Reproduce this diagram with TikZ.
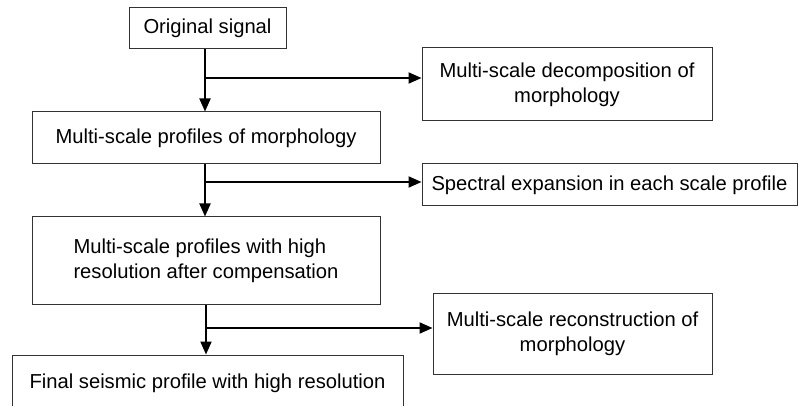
\documentclass[tikz,border=0pt]{standalone}
\usepackage{fontspec}
\setmainfont{Liberation Sans}
\usetikzlibrary{arrows.meta}
\begin{document}
\begin{tikzpicture}[x=1pt,y=-1pt,
  box/.style={draw=black!80, line width=1pt, inner sep=0pt, font=\fontsize{20.2}{25}\selectfont},
  arr/.style={draw=black, line width=2pt, -{Triangle[length=13pt,width=11pt]}},
  ln/.style={draw=black, line width=2pt}]
\clip (0,0) rectangle (798,406);
\useasboundingbox (0,0) rectangle (798,406);
\node[box, minimum width=157pt, minimum height=41pt] (b1) at (207.5,28.5) {Original signal};
\node[box, minimum width=348pt, minimum height=52pt] (b2) at (206,138) {Multi-scale profiles of morphology};
\node[box, minimum width=290pt, minimum height=73pt, align=center] (b3) at (567,84.5) {Multi-scale decomposition of\\morphology};
\node[box, minimum width=375pt, minimum height=42pt] (b4) at (609.5,185) {Spectral expansion in each scale profile};
\node[box, minimum width=348pt, minimum height=87pt, align=left] (b5) at (206,260.5) {Multi-scale profiles with high\\resolution after compensation};
\node[box, minimum width=391pt, minimum height=56pt] (b6) at (207.5,383) {Final seismic profile with high resolution};
\node[box, minimum width=279pt, minimum height=81pt, align=center] (b7) at (572.5,333.5) {Multi-scale reconstruction of\\morphology};
\coordinate (j1) at (205,78);
\coordinate (j2) at (205,182);
\coordinate (j3) at (206,328);
\draw[arr] (b1.south -| j1) -- (b2.north -| j1);
\draw[arr] (j1) -- (j1 -| b3.west);
\draw[arr] (b2.south -| j2) -- (b5.north -| j2);
\draw[arr] (j2) -- (j2 -| b4.west);
\draw[arr] (b5.south -| j3) -- (b6.north -| j3);
\draw[arr] (j3) -- (j3 -| b7.west);
\end{tikzpicture}
\end{document}
